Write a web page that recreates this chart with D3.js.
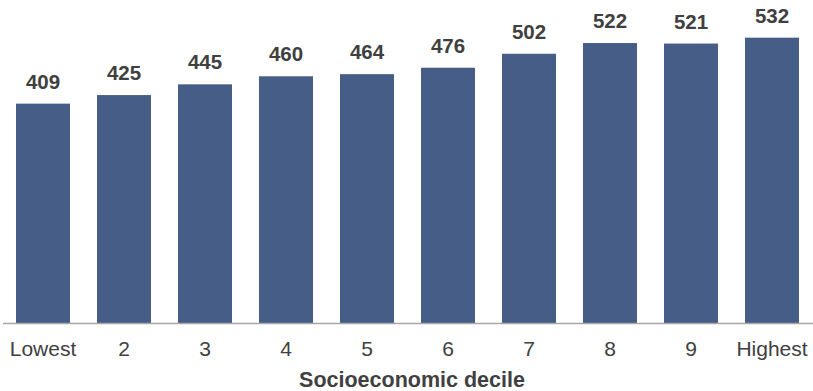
<!DOCTYPE html>
<html>
<head>
<meta charset="utf-8">
<script src="https://cdn.jsdelivr.net/npm/d3@7"></script>
<style>
  html, body { margin: 0; padding: 0; background: #ffffff; }
  svg { display: block; font-family: "Liberation Sans", Arial, sans-serif; }
</style>
</head>
<body>
<svg id="chart" width="813" height="391"></svg>
<script>
// Mean score by socioeconomic decile
const deciles = ["Lowest", "2", "3", "4", "5", "6", "7", "8", "9", "Highest"];
const scores = [409, 425, 445, 460, 464, 476, 502, 522, 521, 532];
const axisTitle = "Socioeconomic decile";

const width = 813, height = 391;
const baseY = 323;

const svg = d3.select("#chart");

const x = d3.scaleBand()
  .domain(deciles)
  .range([2.5, 812.5])
  .paddingInner(1 / 3)
  .paddingOuter(1 / 6);

const y = d3.scaleLinear()
  .domain([0, 600])
  .range([baseY, 1.2]);

const data = deciles.map((d, i) => ({ decile: d, score: scores[i] }));

// Bars
svg.append("g")
  .selectAll("rect")
  .data(data)
  .join("rect")
  .attr("x", d => x(d.decile))
  .attr("y", d => y(d.score))
  .attr("width", x.bandwidth())
  .attr("height", d => baseY - y(d.score))
  .attr("fill", "#465e87");

// Value labels above bars
svg.append("g")
  .selectAll("text")
  .data(data)
  .join("text")
  .attr("x", d => x(d.decile) + x.bandwidth() / 2)
  .attr("y", d => y(d.score) - 15)
  .attr("text-anchor", "middle")
  .attr("font-size", 20.5)
  .attr("font-weight", "bold")
  .attr("fill", "#404040")
  .text(d => d.score);

// Category axis
const xAxis = svg.append("g")
  .attr("transform", `translate(0,${baseY})`)
  .call(d3.axisBottom(x).tickSize(0).tickPadding(0));
xAxis.select(".domain")
  .attr("d", `M3,0.5H813`)
  .attr("stroke", "#a6a6a6")
  .attr("stroke-width", 1.5);
xAxis.selectAll(".tick text")
  .attr("dy", null)
  .attr("y", 33)
  .attr("font-size", 21)
  .attr("font-family", "Liberation Sans, Arial, sans-serif")
  .attr("fill", "#404040");

// Axis title
svg.append("text")
  .attr("x", 412)
  .attr("y", 387)
  .attr("text-anchor", "middle")
  .attr("font-size", 21.5)
  .attr("font-weight", "bold")
  .attr("fill", "#404040")
  .text(axisTitle);
</script>
</body>
</html>
